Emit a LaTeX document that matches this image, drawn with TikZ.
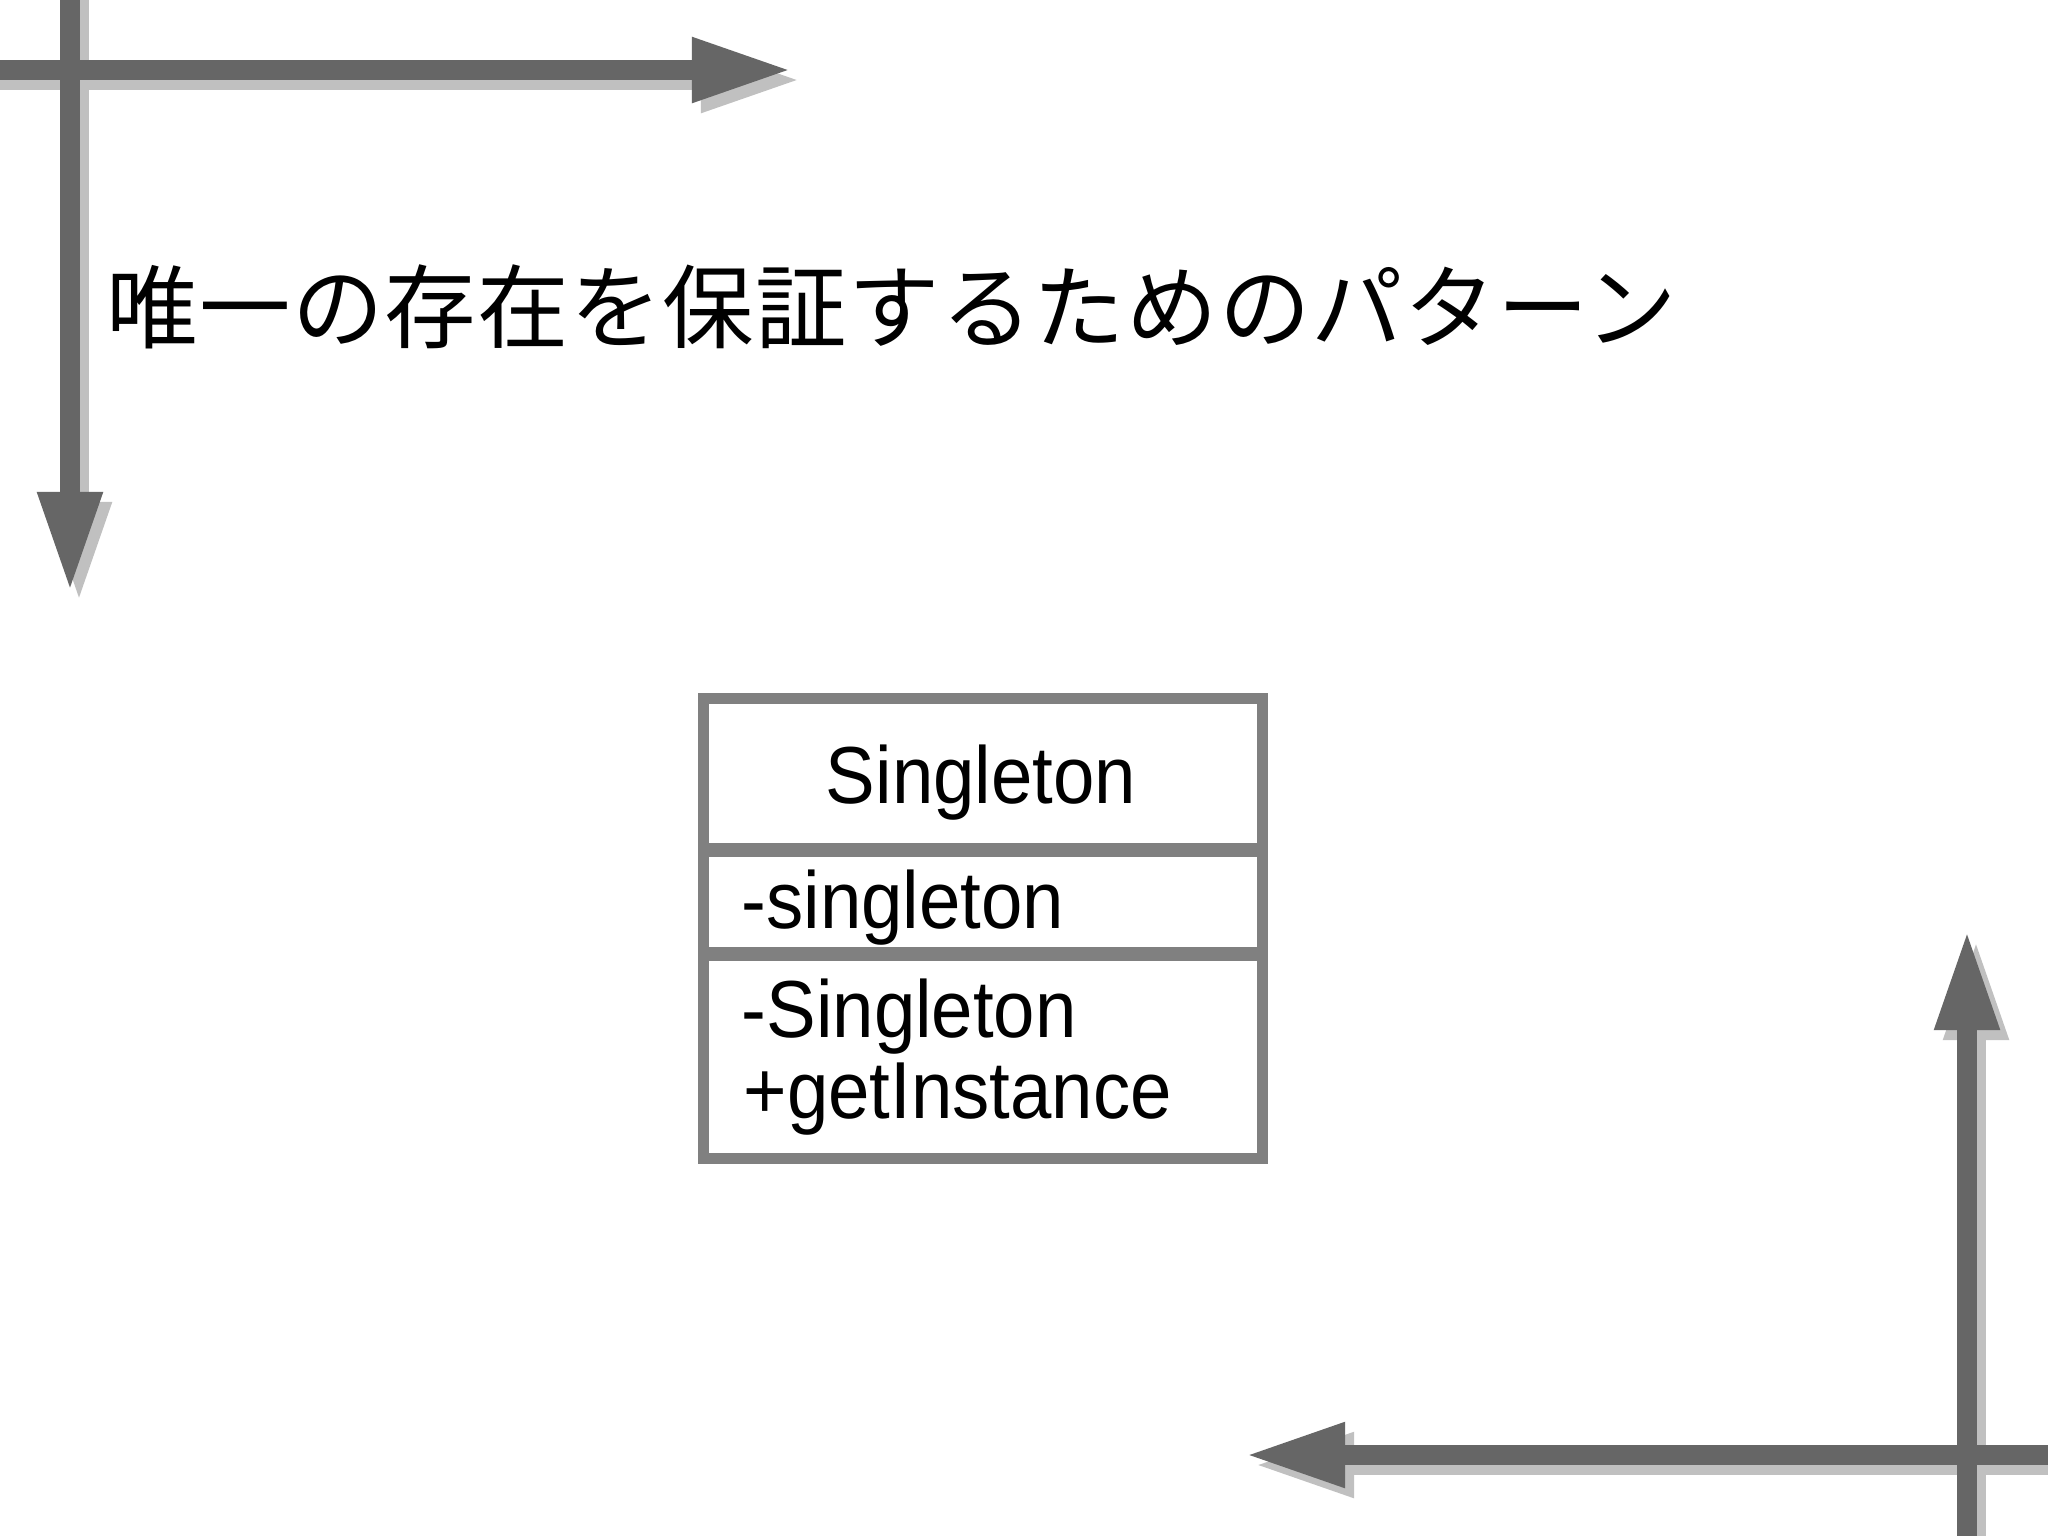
\documentclass[tikz,border=0pt]{standalone}
\usepackage{graphicx}
\usepackage{fontspec}
\setmainfont{Liberation Sans}
\newfontfamily\jpfont[LetterSpace=1.4]{Noto Sans CJK JP}
\usetikzlibrary{arrows.meta}

\definecolor{arrowgray}{HTML}{666666}
\definecolor{shadowgray}{HTML}{C0C0C0}
\definecolor{boxgray}{HTML}{808080}

\newcommand{\umltext}[1]{\scalebox{0.92}[1]{#1}}

\begin{document}
\begin{tikzpicture}[x=0.01cm, y=-0.01cm,
  bar/.style={line width=0.2cm, -{Triangle[length=1cm,width=0.6cm]}},
  barshadow/.style={bar, draw=shadowgray},
  barmain/.style={bar, draw=arrowgray},
  member/.style={anchor=base west, inner sep=0pt, font=\fontsize{23pt}{27pt}\selectfont}]

% Page
\useasboundingbox (0,0) rectangle (2048,1535);
\fill[white] (0,0) rectangle (2048,1535);
\clip (0,0) rectangle (2048,1535);

% Corner arrows
\coordinate (tlh) at (-30,70);
\coordinate (tlhend) at (792,70);
\coordinate (tlv) at (70,-30);
\coordinate (tlvend) at (70,592);
\coordinate (brv) at (1967,1570);
\coordinate (brvend) at (1967,930);
\coordinate (brh) at (2080,1455);
\coordinate (brhend) at (1245,1455);

\foreach \a/\b in {tlh/tlhend, tlv/tlvend, brv/brvend, brh/brhend}
  \draw[barshadow] ([shift={(9,10)}]\a) -- ([shift={(9,10)}]\b);
\foreach \a/\b in {tlh/tlhend, tlv/tlvend, brv/brvend, brh/brhend}
  \draw[barmain] (\a) -- (\b);

% Title
\node[anchor=base west, inner sep=0pt, font=\jpfont\fontsize{26pt}{30pt}\selectfont] (title) at (106,341) {唯一の存在を保証するためのパターン};

% Class box
\draw[boxgray, line width=0.11cm] (703,698) rectangle (1262,1158);
\draw[boxgray, line width=0.14cm] (703,850) -- (1262,850);
\draw[boxgray, line width=0.14cm] (703,954) -- (1262,954);

\node[anchor=base, inner sep=0pt, font=\fontsize{23pt}{27pt}\selectfont] (classname) at (981,803) {\umltext{Singleton}};
\node[member] (field) at (741,928) {\umltext{-singleton}};
\node[member] (ctor) at (741,1037) {\umltext{-Singleton}};
\node[member] (getter) at (743,1118) {\umltext{+getInstance}};
\end{tikzpicture}
\end{document}
